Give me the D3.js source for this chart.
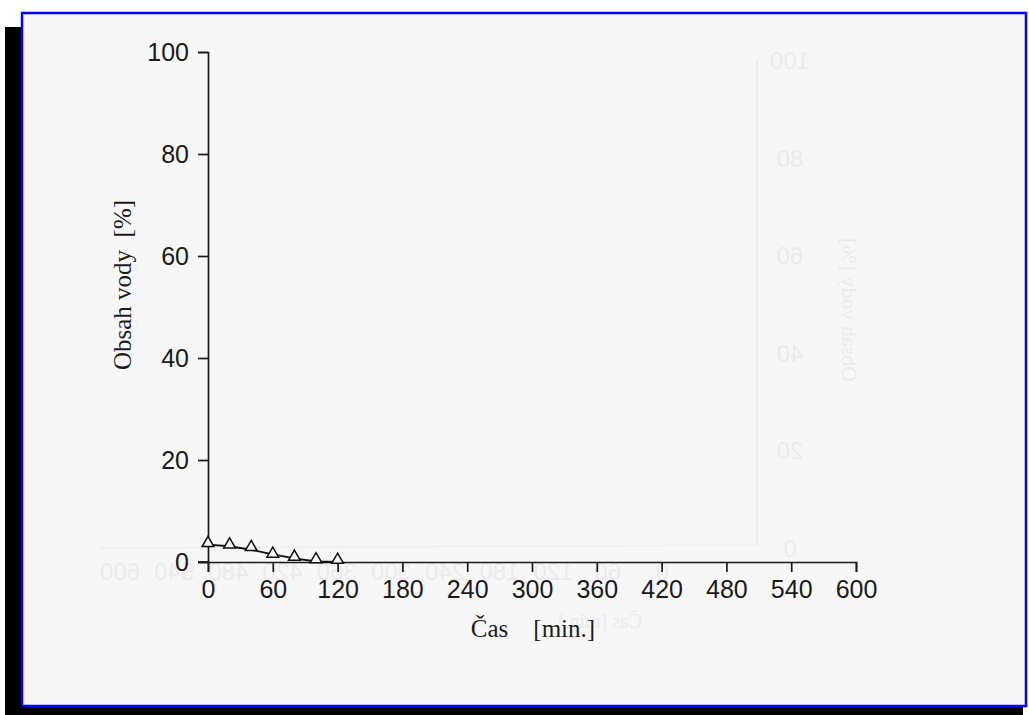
<!DOCTYPE html>
<html>
<head>
<meta charset="utf-8">
<script src="https://cdn.jsdelivr.net/npm/d3@7"></script>
<style>
  html, body { margin: 0; padding: 0; background: #ffffff; }
  svg { display: block; }
</style>
</head>
<body>
<svg id="chart" width="1029" height="715"></svg>
<script>
// ---- data ----
const timeMin = [0, 20, 40, 60, 80, 100, 120];
const waterPct = [3.7, 3.4, 2.9, 1.6, 1.0, 0.5, 0.4];
const fitTime = [0, 20, 40, 60, 80, 100, 120];
const fitPct = [3.4, 3.1, 2.4, 1.5, 0.7, 0.1, 0];
const xTicks = [0, 60, 120, 180, 240, 300, 360, 420, 480, 540, 600];
const yTicks = [0, 20, 40, 60, 80, 100];
const xLabel = "Čas    [min.]";
const yLabel = "Obsah vody  [%]";
// faint mirrored show-through of the reverse page
const ghostYTicks = [100, 80, 60, 40, 20, 0];
const ghostXTicks = [600, 540, 480, 420, 360, 300, 240, 180, 120, 60, 0];

const svg = d3.select("#chart");
const W = 1029, H = 715;
const tickFont = "'Liberation Sans Narrow', 'Arial Narrow', 'Liberation Sans', Arial, sans-serif";
const serifFont = "'Liberation Serif', 'Times New Roman', serif";

// scanned page frame
svg.append("rect").attr("x", 0).attr("y", 0).attr("width", W).attr("height", H).attr("fill", "#ffffff");
svg.append("rect").attr("x", 5).attr("y", 27).attr("width", 1018).attr("height", 688).attr("fill", "#000000");
svg.append("rect").attr("x", 22).attr("y", 13).attr("width", 1004).attr("height", 693)
  .attr("fill", "#f8f7f8").attr("stroke", "#0000ff").attr("stroke-width", 2.5);

const x = d3.scaleLinear().domain([0, 600]).range([208, 856]);
const y = d3.scaleLinear().domain([0, 100]).range([562, 52]);

// ghost (reverse side) scales
const gyScale = d3.scaleLinear().domain([0, 100]).range([548, 60]);
const gxScale = d3.scaleLinear().domain([0, 600]).range([662, 120]);

const ghost = svg.append("g").attr("fill", "#ebeaec").attr("stroke", "none")
  .attr("font-family", tickFont).attr("font-size", 24);
svg.append("line").attr("x1", 757).attr("x2", 757).attr("y1", gyScale(100)).attr("y2", gyScale(0) - 3)
  .attr("stroke", "#e9e8ea").attr("stroke-width", 1.5);
svg.append("line").attr("x1", 100).attr("x2", 757).attr("y1", gyScale(0)).attr("y2", gyScale(0) - 3)
  .attr("stroke", "#eeedef").attr("stroke-width", 1.5);
ghostYTicks.forEach(v => {
  ghost.append("text")
    .attr("transform", `translate(790,${gyScale(v) + 9}) scale(-1,1)`)
    .attr("text-anchor", "middle")
    .text(v);
});
ghostXTicks.forEach(v => {
  ghost.append("text")
    .attr("transform", `translate(${gxScale(v)},580) scale(-1,1)`)
    .attr("text-anchor", "middle")
    .text(v);
});
ghost.append("text")
  .attr("transform", `translate(842,310) rotate(90) scale(-1,1)`)
  .attr("text-anchor", "middle")
  .attr("font-family", serifFont)
  .attr("font-size", 22)
  .text("Obsah vody  [%]");
ghost.append("text")
  .attr("transform", `translate(600,628) scale(-1,1)`)
  .attr("text-anchor", "middle")
  .attr("font-family", serifFont)
  .attr("font-size", 20)
  .text("Čas  [min.]");

// axes
const axisColor = "#1a1a1a";
const xAxis = d3.axisBottom(x).tickValues(xTicks).tickSize(10).tickPadding(8);
const yAxis = d3.axisLeft(y).tickValues(yTicks).tickSize(10).tickPadding(9);

const gx = svg.append("g").attr("transform", `translate(0,${y(0)})`).call(xAxis);
const gy = svg.append("g").attr("transform", `translate(${x(0)},0)`).call(yAxis);

[gx, gy].forEach(g => {
  g.selectAll("path, line").attr("stroke", axisColor).attr("stroke-width", 1.7);
  g.selectAll("text")
    .attr("fill", "#1a1a1a")
    .attr("font-family", tickFont)
    .attr("font-size", 25);
});
svg.append("line").attr("x1", 198).attr("x2", 208).attr("y1", y(0)).attr("y2", y(0))
  .attr("stroke", axisColor).attr("stroke-width", 1.7);

// fitted line
const line = d3.line().x(d => x(d[0])).y(d => y(d[1]));
svg.append("path")
  .datum(fitTime.map((t, i) => [t, fitPct[i]]))
  .attr("d", line)
  .attr("fill", "none")
  .attr("stroke", "#111")
  .attr("stroke-width", 1.9);

// triangle markers
const tri = d3.symbol().type(d3.symbolTriangle).size(60);
svg.append("g").selectAll("path")
  .data(timeMin.map((t, i) => [t, waterPct[i]]))
  .join("path")
  .attr("d", tri)
  .attr("transform", d => `translate(${x(d[0])},${y(d[1])})`)
  .attr("fill", "#f8f7f8")
  .attr("stroke", "#111")
  .attr("stroke-width", 1.5);

// axis titles
svg.append("text")
  .attr("x", 533).attr("y", 637)
  .attr("text-anchor", "middle")
  .attr("font-family", serifFont)
  .attr("font-size", 25)
  .attr("fill", "#1c1c1c")
  .style("white-space", "pre")
  .text(xLabel);

svg.append("text")
  .attr("transform", `translate(131,285) rotate(-90)`)
  .attr("text-anchor", "middle")
  .attr("font-family", serifFont)
  .attr("font-size", 25)
  .attr("fill", "#1c1c1c")
  .style("white-space", "pre")
  .text(yLabel);
</script>
</body>
</html>
